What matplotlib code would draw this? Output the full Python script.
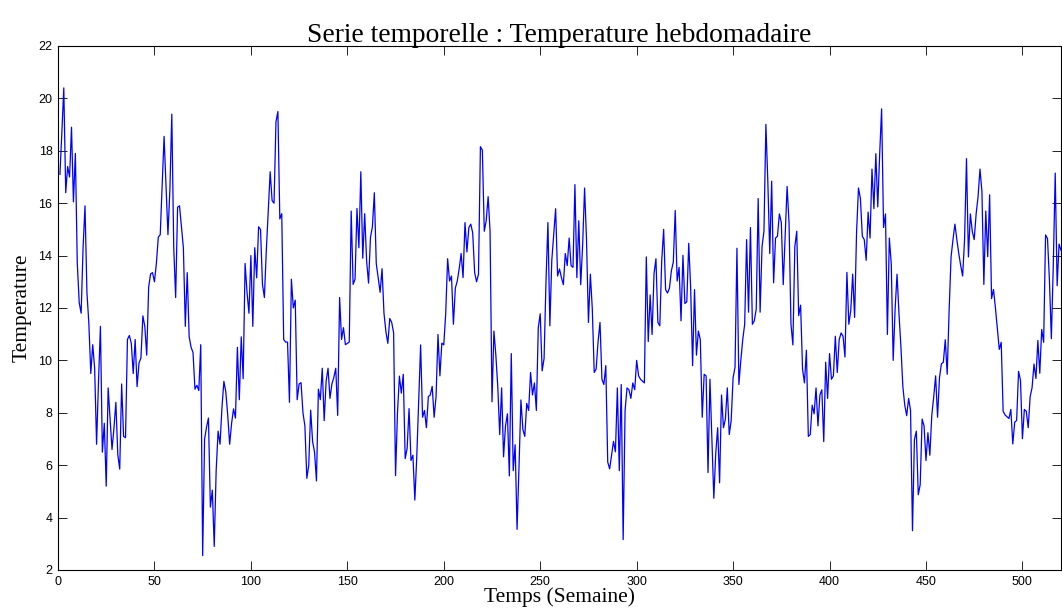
import numpy as np
import matplotlib
matplotlib.use("Agg")
import matplotlib.pyplot as plt

# -----------------------------
# Weekly temperature
# -----------------------------
temperature = [
    17.1, 18.7, 20.4, 16.4, 17.4, 17.0, 18.9, 16.05, 17.9, 13.7,
    12.2, 11.8, 14.3, 15.9, 12.6, 11.4, 9.5, 10.6, 9.7, 6.8,
    9.2, 11.3, 6.5, 7.6, 5.2, 8.95, 7.8, 6.6, 7.4, 8.4,
    6.4, 5.85, 9.1, 7.1, 7.05, 10.8, 10.95, 10.65, 9.5, 10.8,
    9.0, 9.9, 10.1, 11.7, 11.3, 10.2, 12.8, 13.3, 13.35, 13.0,
    13.7, 14.7, 14.8, 16.7, 18.55, 16.7, 14.8, 16.5, 19.4, 14.3,
    12.4, 15.85, 15.9, 15.1, 14.3, 11.3, 13.35, 10.9, 10.5, 10.3,
    8.9, 9.05, 8.85, 10.6, 2.55, 7.0, 7.45, 7.8, 4.4, 5.05,
    2.9, 5.8, 7.3, 6.8, 8.2, 9.2, 8.8, 7.9, 6.8, 7.6,
    8.15, 7.8, 10.5, 8.5, 10.9, 9.3, 13.7, 12.6, 11.8, 14.0,
    11.3, 14.3, 13.15, 15.1, 15.0, 12.9, 12.4, 14.2, 15.7, 17.2,
    16.1, 16.0, 19.1, 19.5, 15.4, 15.6, 10.8, 10.7, 10.7, 8.4,
    13.1, 12.0, 12.3, 8.5, 9.1, 9.15, 8.0, 7.5, 5.5, 6.0,
    8.1, 6.9, 6.5, 5.4, 8.9, 8.5, 9.7, 7.7, 9.2, 9.7,
    8.55, 9.1, 9.35, 9.7, 7.9, 12.4, 10.8, 11.25, 10.6, 10.65,
    10.7, 15.7, 12.9, 13.1, 15.8, 14.3, 17.2, 13.9, 15.6, 13.8,
    12.95, 14.7, 15.1, 16.4, 13.7, 13.15, 12.6, 13.5, 11.8, 11.1,
    10.65, 11.6, 11.45, 11.05, 5.6, 8.0, 9.4, 8.75, 9.47, 6.25,
    6.64, 8.16, 6.18, 6.38, 4.67, 6.32, 8.5, 10.59, 7.83, 8.09,
    7.43, 8.62, 8.68, 9.01, 7.83, 8.62, 10.99, 9.41, 10.66, 10.59,
    11.78, 13.88, 13.03, 13.22, 11.38, 12.76, 13.03, 13.5, 14.08, 13.16,
    15.26, 14.14, 15.07, 15.2, 14.87, 13.36, 13.0, 13.29, 18.16, 18.03,
    14.93, 15.33, 16.25, 14.93, 8.42, 11.12, 10.2, 9.0, 7.17, 8.95,
    6.32, 7.5, 7.96, 5.59, 10.26, 5.79, 6.78, 3.55, 5.92, 8.49,
    7.37, 7.1, 8.36, 8.09, 9.54, 8.68, 9.14, 8.09, 11.25, 11.78,
    9.6, 10.07, 13.03, 15.26, 11.32, 13.82, 14.8, 15.79, 13.22, 13.49,
    13.16, 12.89, 14.08, 13.62, 14.67, 13.62, 13.55, 16.71, 13.16, 15.33,
    12.89, 14.41, 16.58, 14.61, 11.45, 13.29, 11.97, 9.54, 9.67, 10.72,
    11.45, 9.28, 9.08, 9.8, 6.12, 5.86, 6.4, 6.91, 6.51, 8.95,
    5.79, 9.08, 3.16, 8.09, 8.95, 8.88, 8.55, 9.14, 8.88, 10.0,
    9.41, 9.28, 9.21, 9.14, 13.95, 10.72, 12.5, 10.99, 13.3, 13.88,
    11.45, 11.32, 13.82, 15.0, 12.7, 12.57, 12.76, 13.42, 13.75, 15.72,
    13.03, 13.55, 11.51, 14.01, 12.17, 12.24, 14.47, 12.76, 9.8, 12.7,
    10.2, 11.12, 10.79, 7.83, 9.47, 9.41, 5.72, 9.28, 6.97, 4.74,
    6.45, 7.43, 5.33, 8.68, 7.43, 7.76, 8.95, 7.17, 7.7, 9.34,
    9.74, 14.28, 9.08, 10.0, 10.79, 11.38, 14.61, 11.84, 15.07, 11.38,
    11.51, 11.97, 16.18, 11.84, 14.34, 14.93, 19.01, 16.84, 14.08, 16.84,
    12.96, 14.67, 14.74, 15.59, 15.26, 12.89, 14.74, 16.64, 15.26, 11.38,
    10.59, 14.34, 14.93, 11.71, 12.11, 9.67, 9.14, 10.39, 7.1, 7.17,
    8.29, 7.96, 8.95, 7.5, 8.68, 8.88, 6.9, 9.93, 8.55, 10.26,
    9.28, 9.41, 10.92, 9.54, 10.79, 11.05, 10.92, 10.13, 13.36, 11.38,
    11.91, 13.29, 11.64, 14.87, 16.58, 16.18, 14.74, 14.61, 13.82, 15.66,
    14.67, 17.3, 15.79, 17.89, 15.86, 17.89, 19.6, 15.07, 15.59, 10.99,
    14.67, 13.68, 10.0, 11.97, 13.29, 11.78, 10.53, 9.01, 8.29, 7.89,
    8.55, 8.09, 3.5, 6.97, 7.3, 4.87, 5.26, 7.76, 7.5, 6.18,
    7.24, 6.38, 7.89, 8.6, 9.41, 7.83, 9.34, 9.87, 9.93, 10.79,
    9.47, 11.91, 13.95, 14.61, 15.2, 14.61, 14.08, 13.62, 13.22, 14.61,
    17.7, 13.95, 15.59, 14.93, 14.61, 15.59, 16.25, 17.3, 16.45, 12.9,
    15.7, 13.96, 16.32, 12.36, 12.71, 12.01, 11.2, 10.42, 10.69, 8.06,
    7.92, 7.85, 7.78, 8.13, 6.81, 7.64, 7.71, 9.58, 9.24, 7.01,
    8.13, 8.06, 7.43, 8.61, 8.96, 9.86, 9.31, 10.76, 9.51, 11.18,
    10.69, 14.79, 14.65, 13.06, 10.83, 13.61, 17.15, 12.85, 14.44, 14.2,
]
weeks = np.arange(1, len(temperature) + 1)

x_ticks = list(range(0, 501, 50))
y_ticks = list(range(2, 23, 2))

# -----------------------------
# Plotting
# -----------------------------
fig = plt.figure(figsize=(10.62, 6.12), dpi=100)
ax = fig.add_axes([58 / 1062, 42 / 612, 1003 / 1062, 524 / 612])

ax.plot(weeks, temperature, color="#0000ff", linewidth=0.9)

ax.set_xlim(0, 520)
ax.set_ylim(2, 22)
ax.set_xticks(x_ticks)
ax.set_yticks(y_ticks)
ax.tick_params(direction="in", length=6.5, width=0.6, top=True, right=True,
               labelsize=9, pad=4)
for lab in ax.get_xticklabels() + ax.get_yticklabels():
    lab.set_family("Liberation Sans")
for sp in ax.spines.values():
    sp.set_linewidth(0.8)

ax.set_title("Serie temporelle : Temperature hebdomadaire",
             family="Liberation Serif", fontsize=19.8, pad=3)
ax.set_xlabel("Temps (Semaine)", family="Liberation Serif", fontsize=15.5, labelpad=0)
ax.set_ylabel("Temperature", family="Liberation Serif", fontsize=15.5, labelpad=5)

fig.savefig("out.png", dpi=100)
